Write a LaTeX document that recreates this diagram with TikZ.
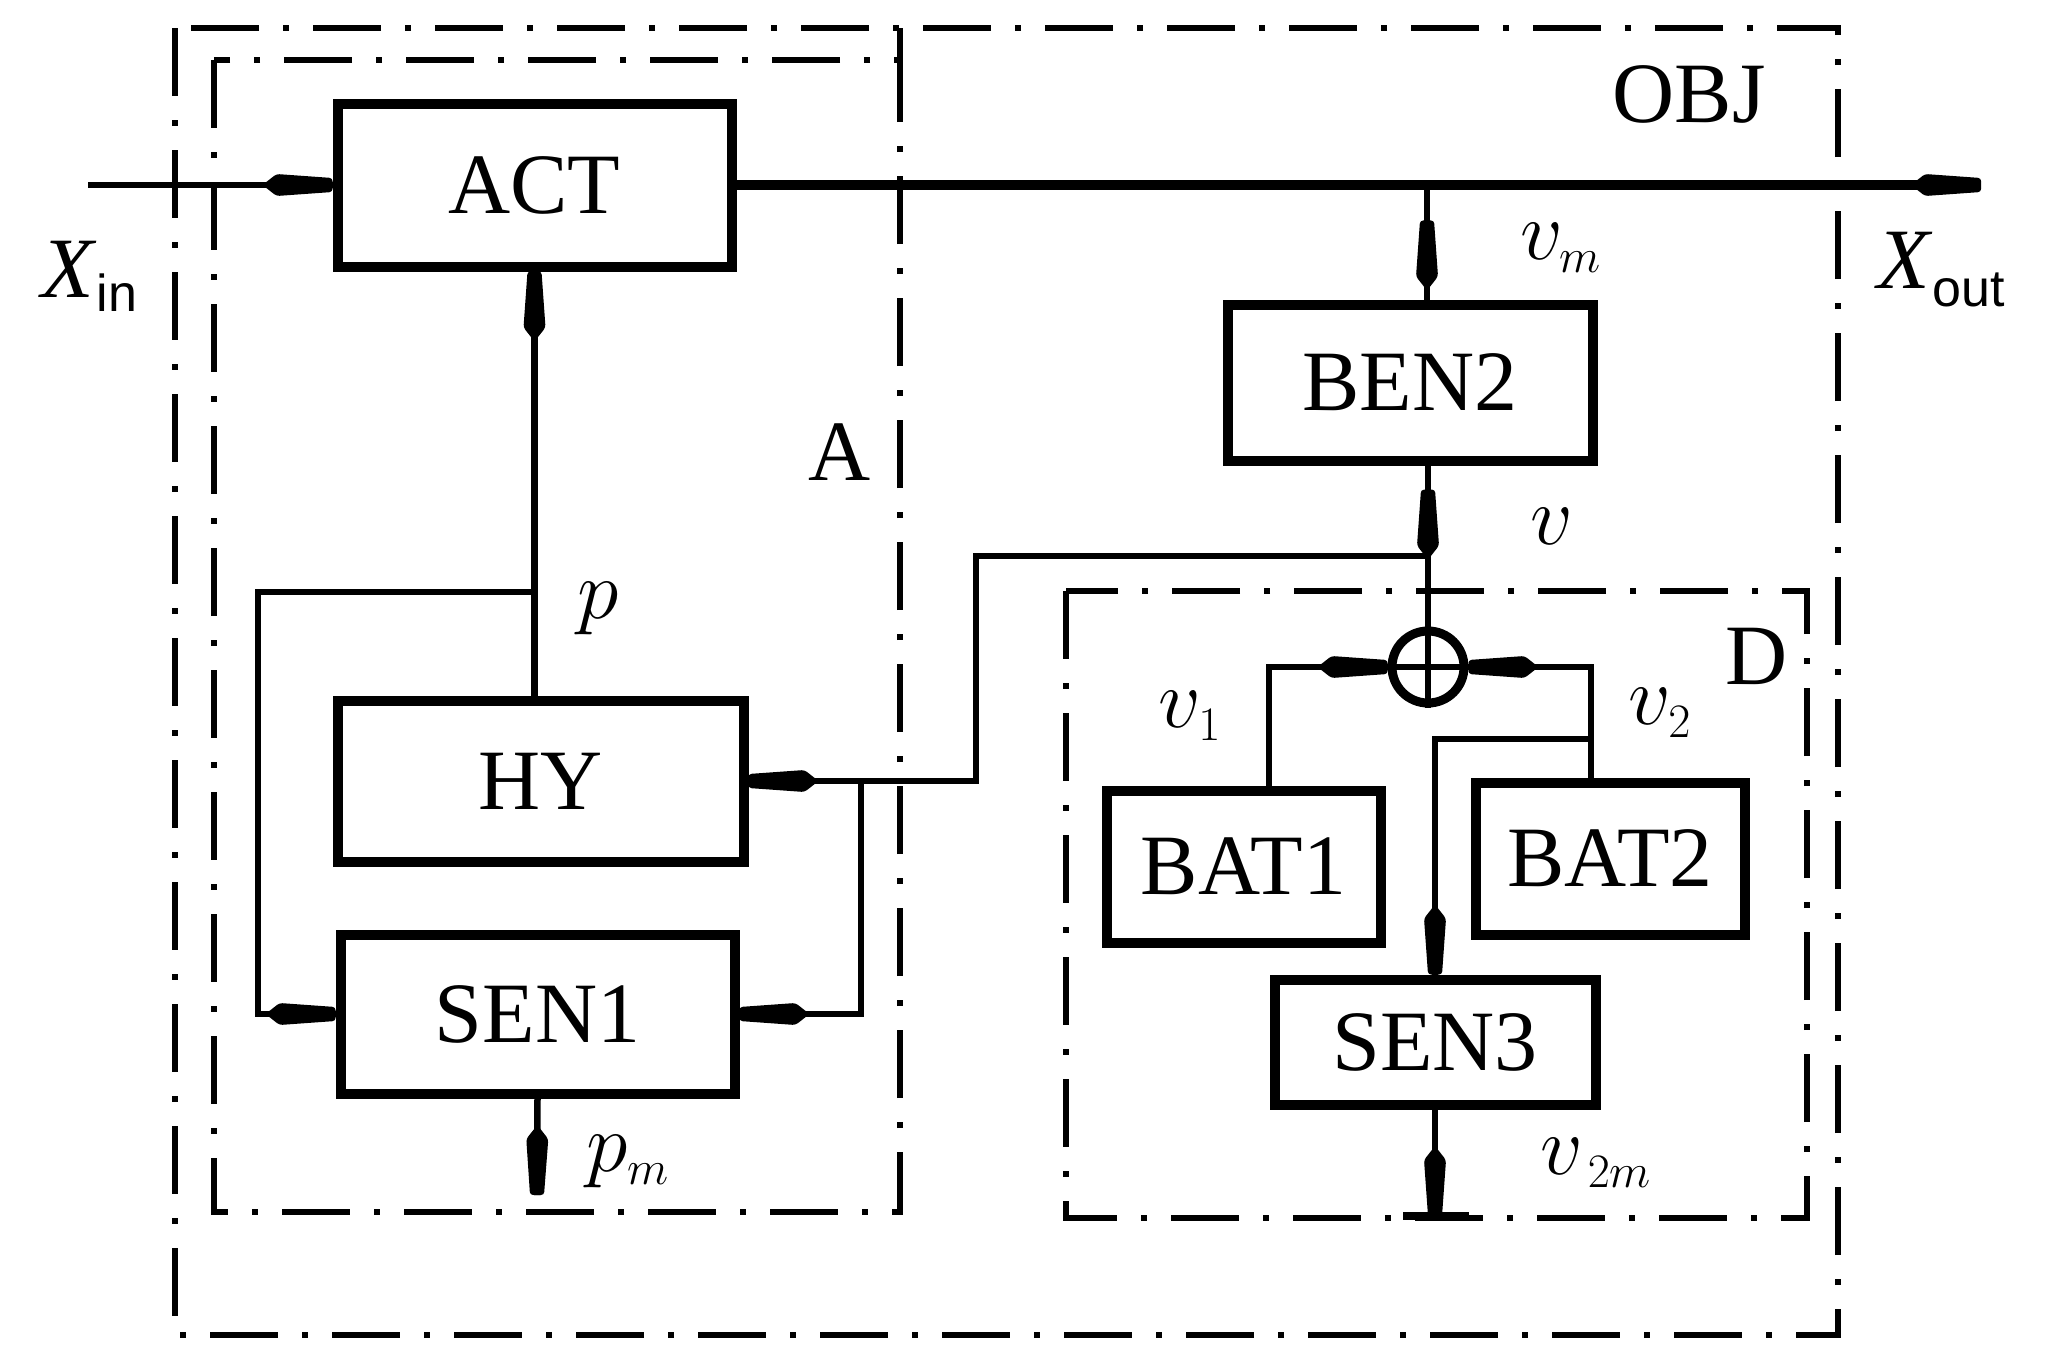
\RequirePackage{fix-cm}
\documentclass[tikz,border=0pt]{standalone}
\usepackage{fontspec}
\setmainfont{Liberation Serif}
\setsansfont{Liberation Sans}
\usetikzlibrary{decorations.markings}
\DeclareMathSizes{42}{42}{24}{18}
\tikzset{
  blk/.style={draw, line width=5pt, inner sep=0pt, font=\fontsize{43}{50}\selectfont},
  conn/.style={line width=3.25pt},
  mainln/.style={line width=5pt},
  dashbox/.style={line width=3pt, dash pattern=on 34pt off 12pt on 3pt off 12pt},
  lbl/.style={font=\fontsize{43}{50}\selectfont, inner sep=0pt},
  mlbl/.style={font=\fontsize{42}{50}\selectfont, inner sep=0pt},
  tipbar/.style={postaction={decorate}, decoration={markings, mark=at position #1 with {\fill[rounded corners=1.5pt] (0pt,-3.5pt) -- (0pt,3.5pt) -- (-28pt,5.5pt) -- (-35pt,0pt) -- (-28pt,-5.5pt) -- cycle;}}},
  tipbar/.default=1,
}
\begin{document}
\begin{tikzpicture}[x=0.5pt, y=-0.5pt]
\useasboundingbox (0,0) rectangle (2054,1360);

% frames
\draw[dashbox] (175,28) rectangle (1838,1335);
\draw[dashbox] (214,60) rectangle (900,1212);
\draw[dashbox] (900,28) -- (900,60);
\draw[dashbox] (1066,591) rectangle (1807,1218);

% blocks
\node[blk, minimum width=197pt, minimum height=81.5pt] (ACT) at (534.5,185) {ACT};
\node[blk, minimum width=203pt, minimum height=80.5pt] (HY) at (540.5,781) {HY};
\node[blk, minimum width=197pt, minimum height=79.5pt] (SEN1) at (537.5,1014) {SEN1};
\node[blk, minimum width=182.5pt, minimum height=78pt] (BEN2) at (1410,382.5) {BEN2};
\node[blk, minimum width=137pt, minimum height=76pt] (BAT1) at (1243.5,866.5) {BAT1};
\node[blk, minimum width=134.5pt, minimum height=76pt] (BAT2) at (1610,858.5) {BAT2};
\node[blk, minimum width=160.5pt, minimum height=62.5pt] (SEN3) at (1435,1042) {SEN3};
\node[draw, circle, line width=4.5pt, minimum size=36pt, inner sep=0pt] (sum) at (1428,667) {};
\draw[line width=3.25pt] (sum.north) -- (sum.south) (sum.west) -- (sum.east);

% coordinates
\coordinate (xin) at (88,185);
\coordinate (xout) at (1981,185);
\coordinate (jm) at (1427,185);
\coordinate (jv) at (1427,556);
\coordinate (c1) at (976,556);
\coordinate (jb) at (861,781);
\coordinate (jp) at (536,592);
\coordinate (c2) at (258,592);
\coordinate (pmend) at (537,1195);
\coordinate (j2) at (1591,739);
\coordinate (gnd) at (1435,1216);

% connectors
\draw[conn, tipbar] (xin) -- (ACT.west);
\draw[mainln, tipbar] (ACT.east) -- (xout);
\draw[conn, tipbar=0.69] (jm |- BEN2.north) -- (jm);
\draw[conn, tipbar=0.85] (sum.north) -- (sum.north |- BEN2.south);
\draw[conn, tipbar] (jv) -- (c1) |- (HY.east);
\draw[conn, tipbar] (jb) |- (SEN1.east);
\draw[conn, tipbar] (ACT.south |- HY.north) -- (ACT.south);
\draw[conn, tipbar] (jp) -- (c2) |- (SEN1.west);
\draw[conn, tipbar] (SEN1.south) -- (pmend);
\draw[conn, tipbar] ([xshift=12.75pt]BAT1.north) |- (sum.west);
\draw[conn, tipbar] ([xshift=-9.5pt]BAT2.north) |- (sum.east);
\draw[conn, tipbar] (j2) -| (SEN3.north);
\draw[conn, tipbar] (SEN3.south) -- (gnd);
\draw[line width=4pt] ([xshift=-16pt]gnd) -- ([xshift=17pt]gnd);

% labels
\node[lbl] (Albl) at (840,452) {A};
\node[lbl] (OBJ) at (1689,94) {OBJ};
\node[lbl] (Dlbl) at (1757,656) {D};
\node[lbl, anchor=base west] (Xin) at (41,297) {\textit{X}\raisebox{-7pt}{\sffamily\fontsize{26}{26}\selectfont in}};
\node[lbl, anchor=base west] (Xout) at (1877,288) {\textit{X}\raisebox{-9pt}{\sffamily\fontsize{26}{26}\selectfont out}};
\node[mlbl] (p) at (598,609) {$p$};
\node[mlbl] (pm) at (628,1162) {$p_m$};
\node[mlbl] (vm) at (1561,248) {$v_m$};
\node[mlbl] (v) at (1552,526) {$v$};
\node[mlbl] (v1) at (1190,716) {$v_1$};
\node[mlbl] (v2) at (1660,713) {$v_2$};
\node[mlbl] (v2m) at (1596,1163) {$v_{\,2m}$};
\end{tikzpicture}
\end{document}
